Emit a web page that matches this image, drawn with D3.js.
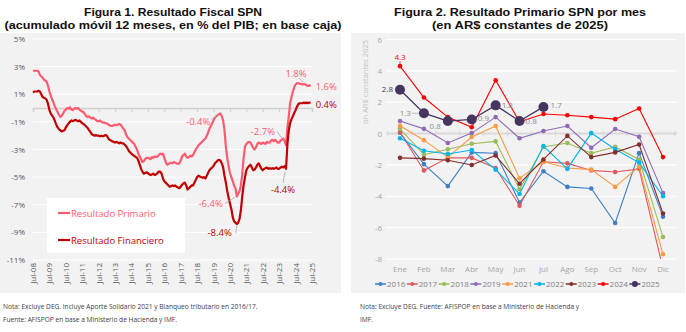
<!DOCTYPE html>
<html>
<head>
<meta charset="utf-8">
<script src="https://cdn.jsdelivr.net/npm/d3@7"></script>
<style>
body { margin: 0; background: #fff; }
svg { display: block; font-family: "Open Sans", sans-serif; }
</style>
</head>
<body>
<svg width="686" height="332"></svg>
<script>
// ---------- Figura 1: acumulado 12 meses, % del PIB (mensual desde jul-08) ----------
var primario = [
  2.7, 2.7, 2.7, 2.7, 2.65, 2.4, 2.3, 2.2, 2.05, 2.0, 1.9, 1.6,
  1.2, 0.9, 0.6, 0.4, 0.1, -0.1, -0.3, -0.5, -0.65, -0.55, -0.4, -0.2,
  -0.1, 0.0, -0.05, 0.05, -0.1, -0.15, -0.05, 0.0, -0.05, 0.0, -0.1, -0.2,
  -0.25, -0.3, -0.45, -0.6, -0.65, -0.6, -0.7, -0.75, -0.7, -0.8, -0.85, -0.95,
  -0.95, -0.9, -1.0, -1.05, -1.05, -1.1, -1.1, -1.2, -1.25, -1.3, -1.3, -1.25,
  -1.2, -1.25, -1.2, -1.15, -1.2, -1.35, -1.5, -1.6, -1.9, -2.1, -2.2, -2.3,
  -2.4, -2.5, -2.6, -2.8, -3.0, -3.3, -3.5, -3.7, -3.9, -3.85, -3.7, -3.6,
  -3.6, -3.65, -3.7, -3.55, -3.6, -3.5, -3.55, -3.5, -3.4, -3.3, -3.35, -3.3,
  -3.6, -3.9, -4.1, -4.05, -4.0, -3.95, -4.0, -3.9, -3.95, -4.0, -4.05, -4.0,
  -3.8, -3.5, -3.4, -3.3, -3.5, -3.6, -3.55, -3.45, -3.5, -3.4, -3.2, -3.0,
  -2.85, -2.7, -2.6, -2.5, -2.4, -2.3, -2.2, -2.0, -1.8, -1.5, -1.3, -1.1,
  -0.9, -0.7, -0.6, -0.5, -0.45, -0.4, -0.6, -0.9, -1.6, -2.8, -3.6, -4.2,
  -4.7, -5.0, -5.3, -5.6, -5.8, -6.4, -6.2, -6.0, -5.6, -4.8, -3.6, -2.8,
  -2.6, -2.5, -2.45, -2.5, -2.7, -2.9, -3.0, -2.85, -2.6, -2.5, -2.55, -2.6,
  -2.5, -2.55, -2.6, -2.45, -2.5, -2.5, -2.35, -2.3, -2.4, -2.3, -2.4, -2.5,
  -2.5, -2.35, -2.3, -2.2, -2.4, -2.7, -1.4, -0.6, 0.35, 0.8, 1.2, 1.5,
  1.7, 1.8, 1.8, 1.75, 1.75, 1.7, 1.75, 1.7, 1.65, 1.6, 1.65, 1.6
];
var financiero = [
  1.15, 1.2, 1.2, 1.2, 1.25, 1.2, 1.0, 0.8, 0.75, 0.7, 0.6, 0.3,
  -0.15, -0.4, -0.55, -0.7, -0.95, -1.2, -1.4, -1.55, -1.6, -1.7, -1.65, -1.6,
  -1.4, -1.25, -1.1, -1.0, -0.9, -0.95, -0.9, -0.85, -0.9, -0.95, -0.9, -1.0,
  -1.1, -1.15, -1.25, -1.35, -1.45, -1.6, -1.75, -1.9, -1.95, -2.0, -1.95, -2.0,
  -2.0, -2.05, -2.0, -2.05, -2.0, -1.95, -2.0, -2.2, -2.3, -2.35, -2.4, -2.45,
  -2.5, -2.45, -2.5, -2.55, -2.5, -2.55, -2.55, -2.65, -2.75, -2.9, -3.1, -3.2,
  -3.3, -3.4, -3.45, -3.55, -3.6, -3.8, -4.1, -4.4, -4.6, -4.75, -4.7, -4.65,
  -4.7, -4.8, -4.85, -4.8, -4.75, -4.85, -4.8, -4.7, -4.6, -4.6, -4.75, -5.1,
  -5.3, -5.4, -5.5, -5.6, -5.7, -5.65, -5.6, -5.65, -5.6, -5.7, -5.75, -5.8,
  -5.7, -5.55, -5.45, -5.4, -5.6, -5.9, -5.8, -5.7, -5.6, -5.6, -5.4, -5.2,
  -5.0, -4.9, -4.95, -5.0, -5.05, -5.0, -5.1, -4.9, -4.7, -4.5, -4.4, -4.3,
  -4.2, -4.0, -3.9, -3.8, -3.75, -3.8, -4.0, -4.3, -4.9, -5.4, -6.0, -6.5,
  -6.9, -7.3, -7.9, -8.2, -8.3, -8.4, -8.3, -8.0, -7.4, -6.4, -5.6, -5.0,
  -4.5, -4.3, -4.2, -4.1, -4.3, -4.5, -4.45, -4.3, -4.1, -4.0, -4.2, -4.4,
  -4.5, -4.4, -4.35, -4.3, -4.4, -4.35, -4.4, -4.35, -4.4, -4.35, -4.3, -4.4,
  -4.4, -4.3, -4.25, -4.3, -4.2, -4.4, -2.6, -1.6, -1.1, -0.8, -0.6, -0.35,
  -0.15, 0.1, 0.3, 0.35, 0.35, 0.35, 0.4, 0.35, 0.4, 0.35, 0.4, 0.4
];
var yTicksIzq = [5, 3, 1, -1, -3, -5, -7, -9, -11];
var aniosIzq = [2008, 2009, 2010, 2011, 2012, 2013, 2014, 2015, 2016,
                2017, 2018, 2019, 2020, 2021, 2022, 2023, 2024, 2025];

// ---------- Figura 2: resultado primario mensual, bn AR$ de 2025 ----------
var meses = ["Ene", "Feb", "Mar", "Abr", "May", "Jun", "Jul", "Ago", "Sep", "Oct", "Nov", "Dic"];
var anios = ["2016", "2017", "2018", "2019", "2021", "2022", "2023", "2024", "2025"];
var r2016 = [0.05, -1.95, -3.35, -1.2, -1.25, -4.4, -2.4, -3.4, -3.5, -5.7, -1.25, -5.3];
var r2017 = [0.1, -2.35, -1.55, -1.55, -2.2, -4.6, -1.8, -1.9, -2.35, -2.45, -2.25, -8.6];
var r2018 = [0.3, -1.35, -1.0, -0.65, -0.5, -3.55, -0.85, -0.6, -1.25, -0.85, -1.65, -6.6];
var r2019 = [0.8, 0.3, -0.6, 0.03, 1.05, -0.3, 0.16, 0.48, -0.9, 0.29, -0.2, -3.8];
var r2021 = [0.5, -0.42, -1.5, -0.22, 0.48, -2.85, -1.8, -2.2, -2.3, -3.4, -2.1, -7.7];
var r2022 = [-0.3, -1.1, -1.3, -1.05, -2.3, -3.85, -0.8, -2.25, 0.03, -1.0, -1.85, -4.0];
var r2023 = [-1.55, -1.6, -1.7, -2.0, -1.4, -3.2, -1.65, -0.15, -1.5, -1.2, -0.7, -5.1];
var r2024 = [4.3, 2.3, 1.05, 0.4, 3.4, 0.75, 1.25, 1.17, 1.05, 0.92, 1.6, -1.5];
var r2025 = [2.8, 1.3, 0.8, 0.9, 1.8, 0.8, 1.7];
var yTicksDer = [6, 4, 2, 0, -2, -4, -6, -8];

var series = [r2016, r2017, r2018, r2019, r2021, r2022, r2023, r2024, r2025];
var colores = ["#3f7fc4", "#e0585c", "#9bbb59", "#8e6bb5", "#f99a45",
               "#00b4ef", "#842f2c", "#ff0000", "#46355f"];

var rosa = "#ff5b70", bordo = "#c00000";
var svg = d3.select("svg");

// fondos
svg.append("rect").attr("x", 0).attr("y", 33).attr("width", 341).attr("height", 260).attr("fill", "#f2f2f2");
svg.append("rect").attr("x", 351).attr("y", 33).attr("width", 334).attr("height", 260).attr("fill", "#f2f2f2");

// titulos (dos renglones, ancho fijo)
function titulo(cx, l1, w1, l2, w2) {
  [[l1, w1, 16], [l2, w2, 28.5]].forEach(function(r) {
    svg.append("text").attr("x", cx).attr("y", r[2]).attr("text-anchor", "middle")
      .attr("font-family", "'Liberation Sans', Arial, sans-serif")
      .attr("font-weight", 700).attr("font-size", 10.8).attr("fill", "#111")
      .attr("textLength", r[1]).attr("lengthAdjust", "spacingAndGlyphs")
      .text(r[0]);
  });
}
titulo(173, "Figura 1. Resultado Fiscal SPN", 178, "(acumulado móvil 12 meses, en % del PIB; en base caja)", 337);
titulo(520, "Figura 2. Resultado Primario SPN por mes", 252, "(en AR$ constantes de 2025)", 176);

// ================= Figura 1 =================
var fecha = function(i) { return new Date(2008, 6 + i, 1); };
var x1 = d3.scaleTime().domain([new Date(2008, 6, 1), new Date(2025, 6, 1)]).range([33, 312]);
var y1 = d3.scaleLinear().domain([-11, 5]).range([260, 39]);

var g1 = svg.append("g");
g1.selectAll(".grid").data(yTicksIzq).enter().append("line")
  .attr("x1", 33).attr("x2", 312)
  .attr("y1", function(d) { return y1(d); }).attr("y2", function(d) { return y1(d); })
  .attr("stroke", "#fff").attr("stroke-width", 1);

g1.selectAll(".ylab").data(yTicksIzq).enter().append("text")
  .attr("x", 25).attr("y", function(d) { return y1(d) + 3; })
  .attr("text-anchor", "end").attr("font-size", 8).attr("fill", "#595959")
  .text(function(d) { return d + "%"; });

// eje cero con marcas anuales
var julios = aniosIzq.map(function(a) { return new Date(a, 6, 1); });
var eje0 = g1.append("g").attr("transform", "translate(0," + y1(0) + ")")
  .call(d3.axisBottom(x1).tickValues(julios).tickSize(4).tickFormat(""));
eje0.select(".domain").attr("stroke", "#d0d0d0").attr("stroke-width", 1.5);
eje0.selectAll(".tick line").attr("stroke", "#d0d0d0");

// etiquetas de fecha abajo, verticales
var fmt = d3.timeFormat("%b-%y");
g1.selectAll(".xlab").data(julios).enter().append("text")
  .attr("transform", function(d) { return "translate(" + (x1(d) + 3) + ",263) rotate(-90)"; })
  .attr("text-anchor", "end").attr("font-size", 8).attr("fill", "#595959")
  .text(function(d) { return fmt(d); });

var linea1 = d3.line()
  .x(function(d, i) { return x1(fecha(i)); })
  .y(function(d) { return y1(d); });

g1.append("path").datum(primario).attr("d", linea1)
  .attr("fill", "none").attr("stroke", rosa).attr("stroke-width", 2.2).attr("stroke-linejoin", "round");
g1.append("path").datum(financiero).attr("d", linea1)
  .attr("fill", "none").attr("stroke", bordo).attr("stroke-width", 2.2).attr("stroke-linejoin", "round");

// rotulos de valores
function rotulo(serie, i, dx, dy, anchor, color, guia) {
  var px = x1(fecha(i)), py = y1(serie[i]);
  if (guia) {
    g1.append("line").attr("x1", px + guia[0]).attr("y1", py + guia[1])
      .attr("x2", px + guia[2]).attr("y2", py + guia[3])
      .attr("stroke", "#a6a6a6").attr("stroke-width", 0.8);
  }
  g1.append("text").attr("x", px + dx).attr("y", py + dy)
    .attr("text-anchor", anchor).attr("font-size", 9.5).attr("fill", color)
    .text(serie[i].toFixed(1) + "%");
}
var ult = primario.length - 1;
rotulo(primario, 137, -10, 11, "end", rosa, [-9, 6, -2, 1]);
rotulo(primario, 193, -1, -6, "middle", rosa, [2, -5, 6, -1]);
rotulo(primario, ult, 5, 4, "start", rosa);
rotulo(financiero, ult, 5, 5, "start", bordo);
rotulo(primario, 185, -11, -10, "end", rosa, [-9, -14, -2, -4]);
rotulo(primario, 149, -14, 11, "end", rosa, [-12, 7, -2, 1]);
rotulo(financiero, 149, -5, 12, "end", bordo, [-1, 9, 0, 2]);
rotulo(financiero, 185, -3, 24, "middle", bordo, [-3, 14, -1, 3]);

// leyenda
var ley1 = g1.append("g");
ley1.append("rect").attr("x", 47).attr("y", 198).attr("width", 138).attr("height", 55).attr("fill", "#fff");
[["Resultado Primario", rosa, 213], ["Resultado Financiero", bordo, 240]].forEach(function(d) {
  ley1.append("line").attr("x1", 58).attr("x2", 70).attr("y1", d[2]).attr("y2", d[2])
    .attr("stroke", d[1]).attr("stroke-width", 2.2);
  ley1.append("text").attr("x", 71).attr("y", d[2] + 3.5).attr("font-size", 9.5)
    .attr("fill", d[1]).text(d[0]);
});

// ================= Figura 2 =================
var x2 = d3.scalePoint().domain(meses).range([400, 663]);
var y2 = d3.scaleLinear().domain([-8, 6]).range([259, 39.5]);
var g2 = svg.append("g");

g2.selectAll(".grid").data(yTicksDer.filter(function(d) { return d !== 0; })).enter().append("line")
  .attr("x1", 386).attr("x2", 677)
  .attr("y1", function(d) { return y2(d); }).attr("y2", function(d) { return y2(d); })
  .attr("stroke", "#fff").attr("stroke-width", 1.2);

g2.selectAll(".ylab").data(yTicksDer).enter().append("text")
  .attr("x", 382).attr("y", function(d) { return y2(d) + 3; })
  .attr("text-anchor", "end").attr("font-size", 8).attr("fill", "#a6a6a6")
  .text(function(d) { return d; });

g2.append("text").attr("transform", "translate(368,40) rotate(-90)")
  .attr("text-anchor", "end").attr("font-size", 7.5).attr("fill", "#bfbfbf")
  .text("bn AR$ constantes 2025");

// eje cero
var paso = x2.step();
var bordes = d3.range(meses.length + 1).map(function(k) { return x2(meses[0]) - paso / 2 + k * paso; });
g2.append("line").attr("x1", 386).attr("x2", 677).attr("y1", y2(0)).attr("y2", y2(0))
  .attr("stroke", "#d9d9d9").attr("stroke-width", 2);
g2.selectAll(".tk").data(bordes).enter().append("line")
  .attr("x1", function(d) { return d; }).attr("x2", function(d) { return d; })
  .attr("y1", y2(0) - 3).attr("y2", y2(0) + 3)
  .attr("stroke", "#d9d9d9").attr("stroke-width", 1);

g2.selectAll(".xlab").data(meses).enter().append("text")
  .attr("x", function(d) { return x2(d); }).attr("y", 272)
  .attr("text-anchor", "middle").attr("font-size", 8).attr("fill", "#a6a6a6")
  .text(function(d) { return d; });

svg.append("clipPath").attr("id", "zona").append("rect")
  .attr("x", 380).attr("y", y2(6) - 6).attr("width", 300).attr("height", y2(-8) - y2(6) + 6);

var linea2 = d3.line()
  .x(function(d, i) { return x2(meses[i]); })
  .y(function(d) { return y2(d); });

var zona = g2.append("g").attr("clip-path", "url(#zona)");
series.forEach(function(s, k) {
  var grande = anios[k] === "2025";
  var c = colores[k];
  zona.append("path").datum(s).attr("d", linea2)
    .attr("fill", "none").attr("stroke", c).attr("stroke-width", grande ? 1.3 : 1.1);
  zona.selectAll(".p" + k).data(s).enter().append("circle")
    .attr("cx", function(d, i) { return x2(meses[i]); })
    .attr("cy", function(d) { return y2(d); })
    .attr("r", grande ? 5 : 2.3).attr("fill", c);
});

// rotulos 2024 (ene) y 2025
var p24 = r2024[0];
g2.append("line").attr("x1", x2("Ene")).attr("x2", x2("Ene"))
  .attr("y1", y2(p24) - 5).attr("y2", y2(p24) - 2).attr("stroke", "#ff0000").attr("stroke-width", 0.7);
g2.append("text").attr("x", x2("Ene")).attr("y", y2(p24) - 6)
  .attr("text-anchor", "middle").attr("font-size", 8).attr("fill", "#ff0000").text(p24.toFixed(1));

var pos25 = [[-7, 2, "end"], [-13, 3, "end"], [-7, 8, "end"], [6, 2, "start"],
             [6, 3, "start"], [6, 3, "start"], [7, 1, "start"]];
r2025.forEach(function(v, i) {
  var px = x2(meses[i]), py = y2(v), o = pos25[i];
  if (i === 1) {
    g2.append("line").attr("x1", px - 12).attr("x2", px - 5).attr("y1", py).attr("y2", py)
      .attr("stroke", "#a6a6a6").attr("stroke-width", 0.7);
  }
  g2.append("text").attr("x", px + o[0]).attr("y", py + o[1])
    .attr("text-anchor", o[2]).attr("font-size", 8)
    .attr("fill", i === 0 ? "#404040" : "#8c8c8c").text(v.toFixed(1));
});

// leyenda
var ley2 = g2.selectAll(".ley").data(anios).enter().append("g")
  .attr("transform", function(d, i) { return "translate(" + (387 + i * 31.8) + ",284)"; });
ley2.append("line").attr("x1", -12).attr("x2", -1).attr("y1", 0).attr("y2", 0)
  .attr("stroke", function(d, i) { return colores[i]; }).attr("stroke-width", 1.5);
ley2.append("circle").attr("cx", -6.5).attr("cy", 0)
  .attr("r", function(d) { return d === "2025" ? 3 : 2; })
  .attr("fill", function(d, i) { return colores[i]; });
ley2.append("text").attr("x", 0).attr("y", 3).attr("font-size", 8).attr("fill", "#808080")
  .text(function(d) { return d; });

// notas
var notas = [
  [3, 309, "Nota: Excluye DEG. Incluye Aporte Solidario 2021 y Blanqueo tributario en 2016/17."],
  [3, 322, "Fuente: AFISPOP en base a Ministerio de Hacienda y IMF."],
  [360, 309, "Nota: Excluye DEG. Fuente: AFISPOP en base a Ministerio de Hacienda y"],
  [360, 322, "IMF."]
];
svg.selectAll(".nota").data(notas).enter().append("text")
  .attr("x", function(d) { return d[0]; }).attr("y", function(d) { return d[1]; })
  .attr("font-size", 6.6).attr("fill", "#404040")
  .text(function(d) { return d[2]; });
</script>
</body>
</html>
